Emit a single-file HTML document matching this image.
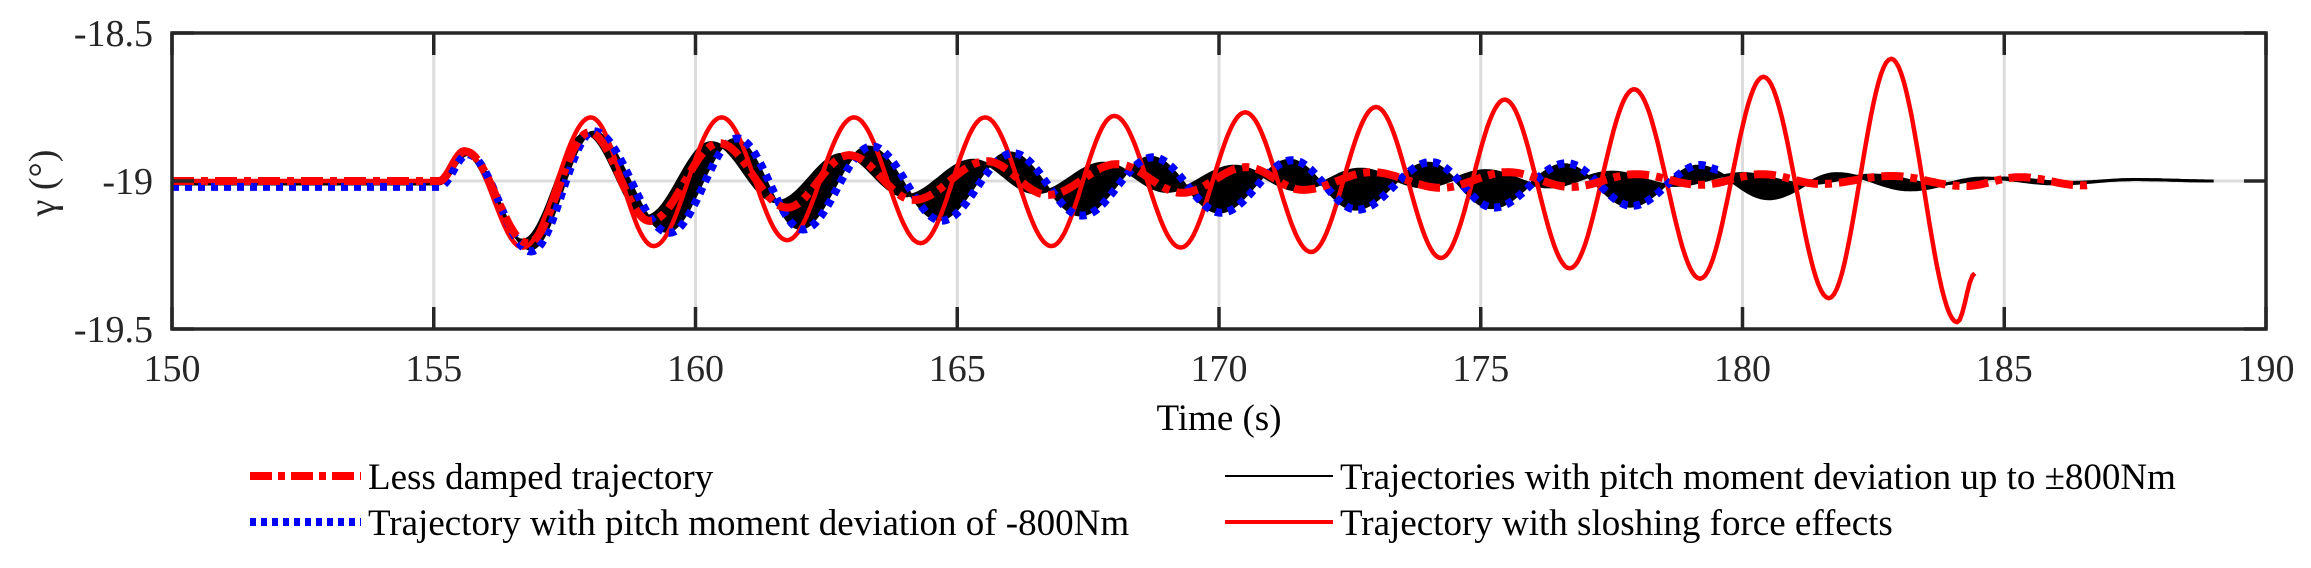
<!DOCTYPE html>
<html><head><meta charset="utf-8">
<style>
html,body{margin:0;padding:0;background:#fff;}
svg{display:block;font-family:"Liberation Serif",serif;}
</style></head>
<body>
<svg id="chart" width="2311" height="568" viewBox="0 0 2311 568" xmlns="http://www.w3.org/2000/svg">
<g id="grid"></g>
<g id="series"></g>
<g id="axes"></g>
<text x="0" y="0" transform="translate(55,183) rotate(-90)" text-anchor="middle" font-size="38" fill="#262626">γ (°)</text>
<text x="1219" y="430" text-anchor="middle" font-size="37" fill="#000">Time (s)</text>
<g font-size="37" fill="#000">
  <g>
    <line x1="250" y1="476" x2="361" y2="476" stroke="#ff0000" stroke-width="8" stroke-dasharray="22,6,7,6"/>
    <text x="368" y="489">Less damped trajectory</text>
  </g>
  <g>
    <line x1="250" y1="522" x2="361" y2="522" stroke="#0000ff" stroke-width="8" stroke-dasharray="6,5"/>
    <text x="368" y="535">Trajectory with pitch moment deviation of -800Nm</text>
  </g>
  <g>
    <line x1="1225" y1="476" x2="1333" y2="476" stroke="#000" stroke-width="2"/>
    <text x="1340" y="489">Trajectories with pitch moment deviation up to ±800Nm</text>
  </g>
  <g>
    <line x1="1225" y1="522" x2="1333" y2="522" stroke="#ff0000" stroke-width="4"/>
    <text x="1340" y="535">Trajectory with sloshing force effects</text>
  </g>
</g>
</svg>
<script>
// ---- data (extrema: times and values) ----
const xTicks = [150,155,160,165,170,175,180,185,190];
const yTicks = [-18.5,-19,-19.5];
const yTickLabels = ["-18.5","-19","-19.5"];

const sloshT = [150,155.05,155.58,156.7,158.0,159.2,160.5,161.75,163.03,164.3,165.53,166.8,168.0,169.27,170.5,171.76,173.0,174.24,175.46,176.7,177.93,179.19,180.4,181.65,182.84,184.1,184.44];
const sloshV = [-19.0,-19.0,-18.893,-19.225,-18.785,-19.22,-18.785,-19.20,-18.785,-19.21,-18.785,-19.22,-18.78,-19.225,-18.768,-19.24,-18.75,-19.26,-18.725,-19.295,-18.69,-19.33,-18.648,-19.396,-18.587,-19.477,-19.312];

const lessT = [150,155.1,155.6,156.8,157.97,159.13,160.45,161.75,162.93,164.17,165.56,166.73,168.05,169.3,170.52,171.6,172.92,174.24,175.52,176.72,177.97,179.2,180.37,181.5,182.84,184.25,185.3,186.5,186.7];
const lessV = [-19.0,-19.0,-18.9,-19.21,-18.836,-19.135,-18.872,-19.09,-18.913,-19.064,-18.933,-19.047,-18.943,-19.04,-18.953,-19.03,-18.97,-19.023,-18.97,-19.02,-18.977,-19.013,-18.977,-19.01,-18.983,-19.017,-18.987,-19.015,-19.013];

const blueT = [150,155.1,155.65,156.86,158.06,159.5,160.8,162.05,163.37,164.7,166.07,167.38,168.74,170.04,171.4,172.64,174.05,175.25,176.64,177.89,179.2,179.57];
const blueV = [-19.02,-19.02,-18.91,-19.238,-18.832,-19.175,-18.856,-19.164,-18.883,-19.134,-18.906,-19.117,-18.92,-19.107,-18.93,-19.097,-18.936,-19.09,-18.94,-19.084,-18.946,-18.963];

const leadT = [150,155.05,155.55,156.7,157.9,159.05,160.3,161.55,162.8,164.0,165.3,166.5,167.8,169.0,170.3,171.5,172.7,173.9,175.1,176.3,177.5,178.7,180.0,181.2,182.5,183.7,185.0,186.2,187.5,189.0];
const leadV = [-19.0,-19.0,-18.9,-19.2,-18.84,-19.12,-18.87,-19.07,-18.91,-19.05,-18.93,-19.04,-18.94,-19.035,-18.95,-19.03,-18.96,-19.02,-18.965,-19.02,-18.97,-19.015,-18.975,-19.01,-18.98,-19.01,-18.99,-19.005,-18.995,-19.0];
const lagT = [150,155.1,155.65,156.85,158.05,159.45,160.75,162.0,163.3,164.65,166.0,167.35,168.7,170.0,171.35,172.6,174.0,175.2,176.6,177.85,179.15,180.5,181.8,183.2,184.6,186.0,187.5,189.0];
const lagV = [-19.01,-19.01,-18.91,-19.23,-18.835,-19.17,-18.86,-19.16,-18.885,-19.13,-18.905,-19.115,-18.92,-19.105,-18.93,-19.095,-18.94,-19.09,-18.945,-19.085,-18.95,-19.06,-18.975,-19.03,-18.99,-19.01,-18.995,-19.0];

// ---- axes functions ----
const L=172,R=2266,T=33,B=329;
const xs = t => L + (t-150)/(190-150)*(R-L);
const ys = v => T + (-18.5 - v)/1.0*(B-T);
const NS="http://www.w3.org/2000/svg";
function mk(tag,attrs,parent){const e=document.createElementNS(NS,tag);for(const k in attrs)e.setAttribute(k,attrs[k]);parent.appendChild(e);return e;}

function samplePts(ts,vs){
  const pts=[];
  for(let i=0;i<ts.length-1;i++){
    const n=Math.max(2,Math.ceil((ts[i+1]-ts[i])*20));
    for(let k=0;k<n;k++){
      const f=k/n, w=(1-Math.cos(Math.PI*f))/2;
      pts.push([xs(ts[i]+(ts[i+1]-ts[i])*f), ys(vs[i]+(vs[i+1]-vs[i])*w)]);
    }
  }
  pts.push([xs(ts[ts.length-1]),ys(vs[vs.length-1])]);
  return pts;
}
const toD = p => p.map((q,i)=>(i?'L':'M')+q[0].toFixed(1)+' '+q[1].toFixed(1)).join(' ');

const grid=document.getElementById('grid');
xTicks.forEach(t=>{
  const g=mk('line',{x1:xs(t),x2:xs(t),y1:T,y2:B,stroke:'#dcdcdc','stroke-width':3},grid);
  
  
});
const gy=mk('line',{x1:L,x2:R,y1:ys(-19),y2:ys(-19),stroke:'#dcdcdc','stroke-width':3},grid);



const S=document.getElementById('series');
const lead=samplePts(leadT,leadV), lag=samplePts(lagT,lagV);
const band=mk('path',{d:toD(lead)+' '+toD(lag.slice().reverse()).replace(/^M/,'L')+' Z',fill:'#000',stroke:'none'},S);


const bl1=mk('path',{d:toD(lead),fill:'none',stroke:'#000','stroke-width':3},S);


const bl2=mk('path',{d:toD(lag),fill:'none',stroke:'#000','stroke-width':3},S);


const sl=mk('path',{d:toD(samplePts(sloshT,sloshV)),fill:'none',stroke:'#ff0000','stroke-width':4.5,'stroke-linejoin':'round'},S);


const bd=mk('path',{d:toD(samplePts(blueT,blueV)),fill:'none',stroke:'#0000ff','stroke-width':8,'stroke-dasharray':'7,6'},S);


const ld=mk('path',{d:toD(samplePts(lessT,lessV)),fill:'none',stroke:'#ff0000','stroke-width':8,'stroke-dasharray':'22,7,7,7'},S);



const A=document.getElementById('axes');
const box=mk('rect',{x:L,y:T,width:R-L,height:B-T,fill:'none',stroke:'#262626','stroke-width':3.5},A);


xTicks.forEach(t=>{
  const x=xs(t);
  const m1=mk('line',{x1:x,x2:x,y1:T,y2:T+22,stroke:'#262626','stroke-width':3.5},A);
  
  
  const m2=mk('line',{x1:x,x2:x,y1:B,y2:B-22,stroke:'#262626','stroke-width':3.5},A);
  
  
  const tx=mk('text',{x:x,y:381,'text-anchor':'middle','font-size':38,fill:'#262626'},A);
  tx.textContent=String(t);
  
  
});
yTicks.forEach((v,i)=>{
  const y=ys(v);
  const m1=mk('line',{x1:L,x2:L+22,y1:y,y2:y,stroke:'#262626','stroke-width':3.5},A);
  
  
  const m2=mk('line',{x1:R,x2:R-22,y1:y,y2:y,stroke:'#262626','stroke-width':3.5},A);
  
  
  const tx=mk('text',{x:153,y:y+13,'text-anchor':'end','font-size':38,fill:'#262626'},A);
  tx.textContent=yTickLabels[i];
  
  
});
</script>
</body></html>
